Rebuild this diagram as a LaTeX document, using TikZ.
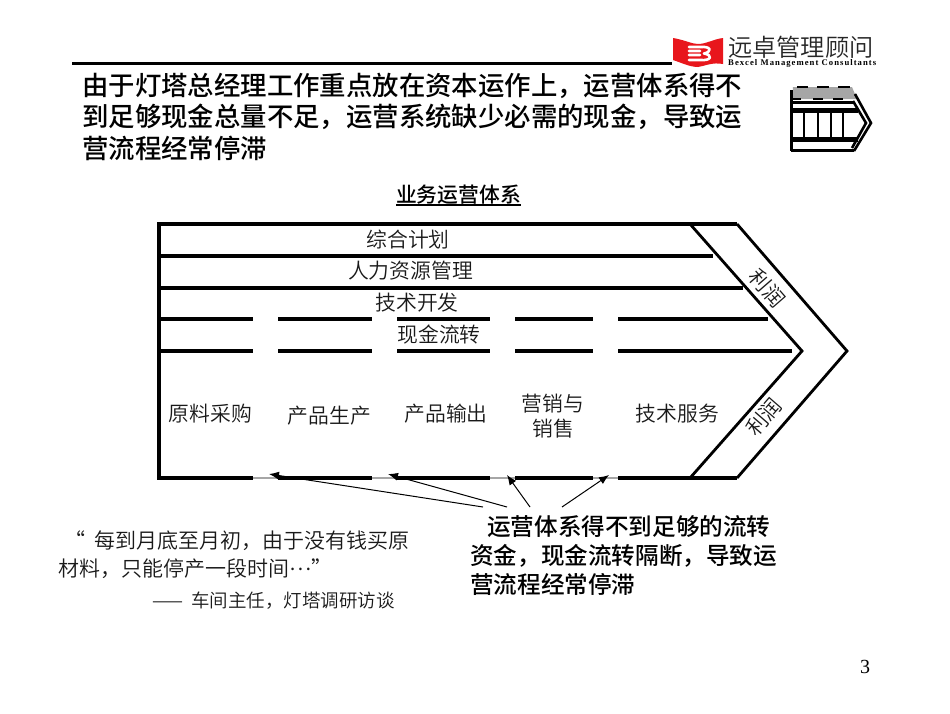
\documentclass[tikz,border=0pt]{standalone}
\usepackage{fontspec}
\setmainfont{Liberation Serif}
\newfontfamily\cjk[BoldFont={Noto Sans CJK SC Medium}]{Noto Sans CJK SC DemiLight}
\usetikzlibrary{arrows.meta}
\definecolor{logored}{RGB}{232,22,28}
\tikzset{
 cn/.style={inner sep=0pt,font=\cjk\fontsize{20.8}{25}\selectfont,text=black!90},
 ttl/.style={inner sep=0pt,anchor=north west,align=left,font=\cjk\bfseries\fontsize{26.4}{31.5}\selectfont},
 call/.style={inner sep=0pt,anchor=north west,align=left,font=\cjk\bfseries\fontsize{23.6}{29}\selectfont},
 quot/.style={inner sep=0pt,anchor=north west,align=left,font=\cjk\fontsize{21}{27.5}\selectfont,text=black!90},
 frame/.style={line width=3.2pt,line cap=butt},
 chev/.style={line width=2.8pt,line join=miter},
 gapline/.style={line width=1.4pt,draw=black!35},
 pt/.style={-{Latex[length=10pt,width=8pt]},line width=1pt},
}
\begin{document}
\begin{tikzpicture}[x=1pt,y=-1pt]
\useasboundingbox (0,0) rectangle (950,713);
% header
\coordinate (hl) at (72,63); \coordinate (hr) at (672,63);
\draw[line width=3pt] (hl) -- (hr);
% logo
\fill[logored] (673,38) .. controls (685,40) and (692,44) .. (698,44) .. controls (706,44) and (714,39) .. (723,38) -- (723,64) .. controls (712,62) and (705,66) .. (698,67) .. controls (690,67) and (682,63) .. (673,60) -- cycle;
\draw[white,line width=2.6pt,line cap=round,line join=round] (689,47)--(702,47) (689,51)--(700,51) (689,55)--(700,55) (689,60)--(702,60) (700,47).. controls (712,46) and (712,52) .. (704,53.5) .. controls (713,55) and (712,61) .. (700,60);
\node[inner sep=0pt,anchor=west,font=\cjk\fontsize{24.2}{25}\selectfont,text=black!85] (logoa) at (728,47.5) {远卓管理顾问};
\node[inner sep=0pt,anchor=west] (logob) at (728,63.8) {\resizebox{148pt}{!}{\fontsize{8}{9}\bfseries\addfontfeature{LetterSpace=12}\selectfont Bexcel Management Consultants}};
% title
\node[ttl] (title) at (82,72.5) {由于灯塔总经理工作重点放在资本运作上，运营体系得不\\到足够现金总量不足，运营系统缺少必需的现金，导致运\\营流程经常停滞};
% icon
\fill[black!35] (793,87) -- (852,87) -- (857,99) -- (792,99) -- cycle;
\draw[line width=2.4pt] (797,87)--(808,87) (817,87)--(829,87) (838,87)--(850,87)
 (793,99)--(801,99) (813,99)--(823,99) (833,99)--(843,99);
\draw[line width=3pt] (791,90)--(791,151);
\draw[line width=2.6pt] (791,102.5)--(854,102.5);
\draw[line width=5pt] (791,110)--(858,110) (791,139)--(858,139);
\draw[line width=3pt] (791,150)--(854,150);
\draw[line width=2.6pt,line join=miter] (855,94)--(871,123)--(854,151);
\draw[line width=2.6pt,line join=miter] (853,101)--(866,123)--(852,148);
\draw[line width=2pt] (804,112)--(804,137) (818,112)--(818,137) (831,112)--(831,137) (843,112)--(843,137);
% heading
\node[cn,font=\cjk\bfseries\fontsize{20.8}{26}\selectfont,text=black] (head) at (458.5,194.5) {业务运营体系};
\coordinate (ula) at (396,205); \coordinate (ulb) at (521,205);
\draw[line width=1.4pt] (ula) -- (ulb);
% chevron frame
\coordinate (tl) at (159,224); \coordinate (bl) at (159,478);
\coordinate (tm) at (690,224); \coordinate (tr) at (737,224);
\coordinate (bm) at (690,478); \coordinate (br) at (737,478);
\coordinate (tip) at (847,351); \coordinate (itip) at (802,351);
\draw[frame,line join=miter] (tr) -- (tl) -- (bl) -- (253,478);
\draw[chev] (tr) -- (tip) -- (br);
\draw[chev] (tm) -- (itip) -- (bm);
\draw[frame] (159,256) -- (713,256);
\draw[frame] (159,288) -- (743,288);
\foreach \y/\e in {319/768,351/792}{
 \draw[frame] (159,\y)--(253,\y) (278,\y)--(372,\y) (397,\y)--(490,\y) (515,\y)--(593,\y) (618,\y)--(\e,\y);
}
\draw[gapline] (253,478)--(278,478) (372,478)--(397,478) (490,478)--(515,478) (593,478)--(618,478);
\draw[frame] (278,478)--(372,478) (397,478)--(490,478) (515,478)--(593,478) (618,478)--(737,478);
% labels
\node[cn] (n1) at (408,240) {综合计划};
\node[cn] (n2) at (410.5,271) {人力资源管理};
\node[cn] (n3) at (417,303) {技术开发};
\node[cn] (n4) at (439,335) {现金流转};
\node[cn] (c1) at (210.5,414) {原料采购};
\node[cn] (c2) at (329.5,416) {产品生产};
\node[cn] (c3) at (446,414) {产品输出};
\node[cn,align=center] (c4) at (553,416.5) {营销与\\销售};
\node[cn] (c5) at (677.5,414) {技术服务};
\node[cn,rotate=-49] (p1) at (767,288) {利润};
\node[cn,rotate=49] (p2) at (764,417) {利润};
% arrows
\coordinate (a1) at (483,507); \coordinate (t1) at (269,474);
\coordinate (a2) at (507,507); \coordinate (t2) at (388,474);
\coordinate (a3) at (530,507); \coordinate (t3) at (507,475);
\coordinate (a4) at (562,507); \coordinate (t4) at (609,475);
\draw[pt] (a1) -- (t1);
\draw[pt] (a2) -- (t2);
\draw[pt] (a3) -- (t3);
\draw[pt] (a4) -- (t4);
% callout
\node[call] (callout) at (470,515.5) {\hspace*{17pt}运营体系得不到足够的流转\\资金，现金流转隔断，导致运\\营流程经常停滞};
% quote
\node[quot] (quote) at (58,531) {\hspace*{6pt}“\hspace{9pt}每到月底至月初，由于没有钱买原\\材料，只能停产一段时间\raisebox{6pt}{…}”};
\node[quot,font=\cjk\fontsize{18.5}{22}\selectfont] (src) at (152,592) {——\hspace{4pt} 车间主任，灯塔调研访谈};
\node[inner sep=0pt,font=\fontsize{20}{22}\selectfont] (pg) at (865,667) {3};
\end{tikzpicture}
\end{document}
